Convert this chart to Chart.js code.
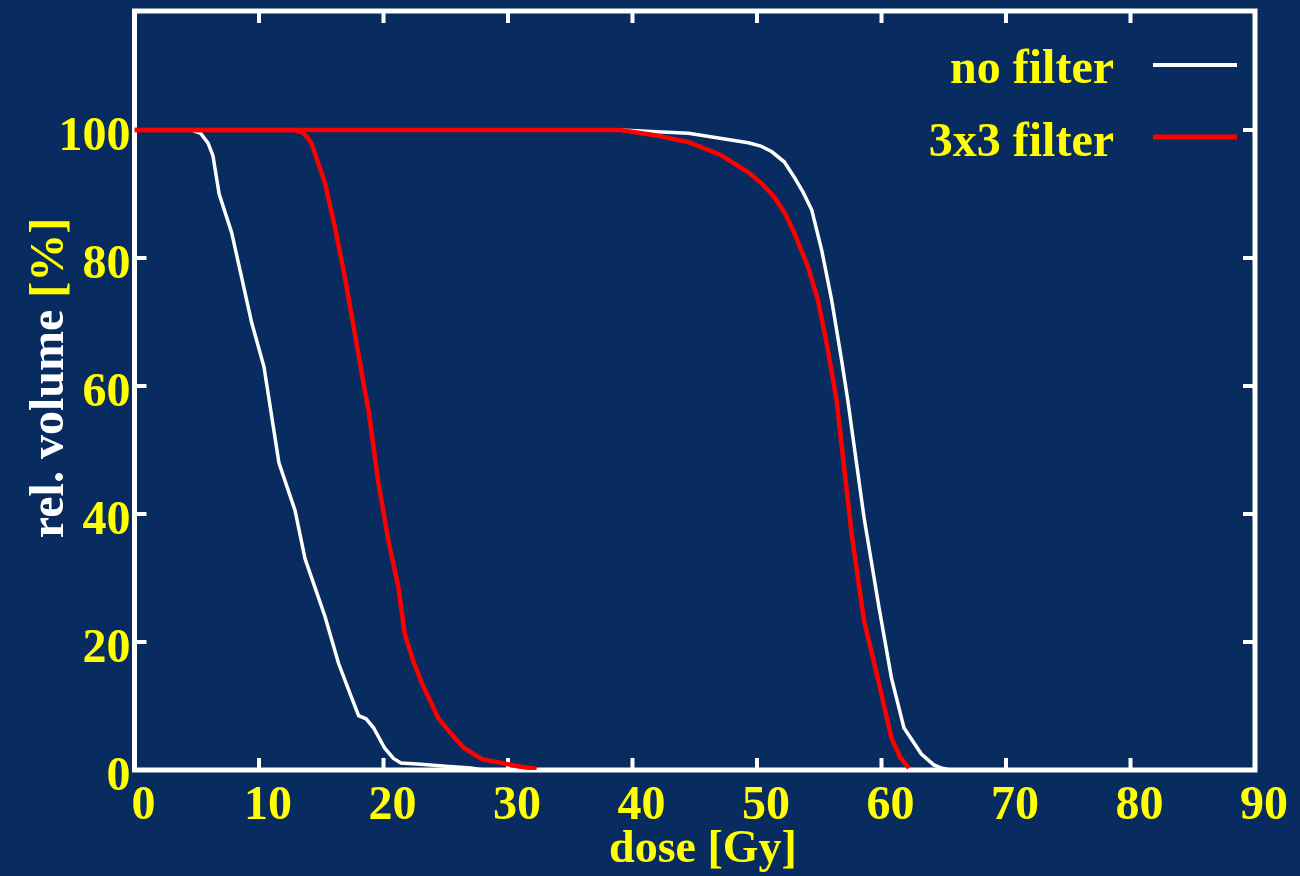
<!DOCTYPE html>
<html>
<head>
<meta charset="utf-8">
<title>rel. volume vs dose</title>
<script src="https://cdn.jsdelivr.net/npm/chart.js@4.4.1/dist/chart.umd.min.js"></script>
<style>
  html, body { margin: 0; padding: 0; background: #082c5f; overflow: hidden; }
  canvas { display: block; }
</style>
</head>
<body>
<canvas id="dvh-chart" width="1300" height="876"></canvas>
<script>
// tick labels
const xTicks = [0, 10, 20, 30, 40, 50, 60, 70, 80, 90];
const yTicks = [0, 20, 40, 60, 80, 100];

// legend entries
const seriesLabels = ['no filter', '3x3 filter'];

// no filter - low dose structure
const noFilterLowDose = [0, 4.6, 5.3, 5.9, 6.3, 6.8, 7.8, 8.6, 9.4, 10.4, 10.8, 11.6, 12.9, 13.7, 14.5, 15.3, 16.4, 17.4, 18.0, 18.6, 19.2, 20.1, 20.8, 21.4, 23.0, 25.0, 27.0, 28.0];
const noFilterLowVolume = [100, 100, 99.5, 98, 96, 90, 84, 77, 70, 63, 58, 48, 40.5, 33, 28.5, 24, 16.6, 11.5, 8.5, 8.0, 6.6, 3.4, 1.8, 1.1, 0.9, 0.6, 0.3, 0];

// no filter - high dose structure
const noFilterHighDose = [0, 39.0, 44.5, 49.3, 50.3, 51.2, 52.2, 53.0, 53.7, 54.4, 55.2, 56.0, 56.8, 57.3, 58.6, 59.8, 60.8, 61.8, 63.2, 64.2, 64.8, 65.5];
const noFilterHighVolume = [100, 100, 99.5, 98, 97.5, 96.6, 95, 92.6, 90.3, 87.5, 81.2, 73.4, 64, 57.7, 39.4, 25.4, 14.4, 6.6, 2.5, 0.8, 0.3, 0];

// 3x3 filter - low dose structure
const filterLowDose = [0, 12.8, 13.5, 13.8, 14.2, 15.3, 16.1, 16.9, 17.7, 18.5, 18.8, 19.6, 20.4, 21.2, 21.7, 22.4, 23.1, 24.4, 25.5, 26.5, 27.9, 30.0, 31.0, 32.3];
const filterLowVolume = [100, 100, 99.6, 99.0, 98, 91.7, 84.8, 77, 68.2, 59.3, 56.2, 44.8, 35.8, 28.5, 21.3, 17, 13.5, 8.1, 5.5, 3.4, 1.7, 0.9, 0.5, 0.2];

// 3x3 filter - high dose structure
const filterHighDose = [0, 39.0, 41.8, 44.5, 47.1, 49.3, 50.4, 51.4, 52.3, 53.0, 54.1, 54.9, 55.7, 56.4, 57.6, 58.6, 59.8, 60.8, 61.5, 62.2];
const filterHighVolume = [100, 100, 99.2, 98.1, 96.1, 93.4, 91.6, 89.5, 86.8, 83.9, 78.6, 73.4, 65.6, 57.7, 36.9, 23.3, 13.5, 5.0, 2.0, 0.3];

const FONT = '"Liberation Serif", "Times New Roman", serif';
const YELLOW = '#ffff00';

function toPoints(doses, volumes) {
  return doses.map((d, i) => ({ x: d, y: volumes[i] }));
}

// white frame with inward ticks on all four sides
const framePlugin = {
  id: 'frame',
  beforeDatasetsDraw(chart) {
    const { ctx, chartArea: a, scales } = chart;
    ctx.save();
    ctx.strokeStyle = '#ffffff';
    ctx.lineWidth = 5;
    ctx.strokeRect(a.left, a.top, a.right - a.left, a.bottom - a.top);
    ctx.lineWidth = 4;
    ctx.beginPath();
    xTicks.forEach(v => {
      const px = scales.x.getPixelForValue(v);
      ctx.moveTo(px, a.bottom); ctx.lineTo(px, a.bottom - 12);
      ctx.moveTo(px, a.top); ctx.lineTo(px, a.top + 12);
    });
    yTicks.forEach(v => {
      const py = scales.y.getPixelForValue(v);
      ctx.moveTo(a.left, py); ctx.lineTo(a.left + 12, py);
      ctx.moveTo(a.right, py); ctx.lineTo(a.right - 12, py);
    });
    ctx.stroke();
    ctx.restore();
  }
};

// legend in the top right corner (text right aligned, sample line after it)
const legendPlugin = {
  id: 'keyBox',
  afterDatasetsDraw(chart) {
    const ctx = chart.ctx;
    const rows = [
      { label: seriesLabels[0], color: '#ffffff', width: 4, textY: 83, lineY: 65 },
      { label: seriesLabels[1], color: '#ff0000', width: 5, textY: 156, lineY: 137 }
    ];
    ctx.save();
    ctx.font = 'bold 48px ' + FONT;
    ctx.textAlign = 'right';
    ctx.textBaseline = 'alphabetic';
    rows.forEach(r => {
      ctx.fillStyle = YELLOW;
      ctx.fillText(r.label, 1114, r.textY);
      ctx.strokeStyle = r.color;
      ctx.lineWidth = r.width;
      ctx.beginPath();
      ctx.moveTo(1153, r.lineY);
      ctx.lineTo(1237, r.lineY);
      ctx.stroke();
    });
    ctx.restore();
  }
};

// axis titles (y title has two colours)
const titlePlugin = {
  id: 'axisTitles',
  afterDraw(chart) {
    const ctx = chart.ctx;
    ctx.save();
    ctx.textBaseline = 'alphabetic';

    // x title
    ctx.font = 'bold 46px ' + FONT;
    ctx.fillStyle = YELLOW;
    ctx.textAlign = 'center';
    ctx.fillText('dose [Gy]', 703, 862);

    // y title
    ctx.font = 'bold 48px ' + FONT;
    const partA = 'rel. volume ';
    const partB = '[%]';
    const wA = ctx.measureText(partA).width;
    const wB = ctx.measureText(partB).width;
    ctx.translate(63, 378);
    ctx.rotate(-Math.PI / 2);
    ctx.textAlign = 'left';
    ctx.fillStyle = '#ffffff';
    ctx.fillText(partA, -(wA + wB) / 2, 0);
    ctx.fillStyle = YELLOW;
    ctx.fillText(partB, -(wA + wB) / 2 + wA, 0);
    ctx.restore();
  }
};

const ctx = document.getElementById('dvh-chart').getContext('2d');
const chart = new Chart(ctx, {
  type: 'line',
  data: {
    datasets: [
      { label: seriesLabels[1], data: toPoints(filterLowDose, filterLowVolume), borderColor: '#ff0000', borderWidth: 4.5, order: 1 },
      { label: seriesLabels[1], data: toPoints(filterHighDose, filterHighVolume), borderColor: '#ff0000', borderWidth: 4.5, order: 1 },
      { label: seriesLabels[0], data: toPoints(noFilterLowDose, noFilterLowVolume), borderColor: '#ffffff', borderWidth: 3.5, order: 2 },
      { label: seriesLabels[0], data: toPoints(noFilterHighDose, noFilterHighVolume), borderColor: '#ffffff', borderWidth: 3.5, order: 2 }
    ]
  },
  options: {
    responsive: false,
    animation: false,
    events: [],
    elements: {
      point: { radius: 0 },
      line: { tension: 0, fill: false }
    },
    layout: { padding: { left: 0, right: 45, top: 11, bottom: 0 } },
    scales: {
      x: {
        type: 'linear',
        min: 0,
        max: 90,
        afterFit: s => { s.height = 106; s.paddingLeft = 0; s.paddingRight = 0; },
        afterBuildTicks: s => { s.ticks = xTicks.map(v => ({ value: v })); },
        grid: { display: false, drawTicks: false },
        border: { display: false },
        ticks: {
          color: YELLOW,
          font: { family: FONT, size: 48, weight: 'bold' },
          padding: 8,
          labelOffset: 9,
          maxRotation: 0,
          autoSkip: false
        }
      },
      y: {
        type: 'linear',
        min: 0,
        max: 118.6,
        afterFit: s => { s.width = 134.5; s.paddingTop = 0; s.paddingBottom = 0; },
        afterBuildTicks: s => { s.ticks = yTicks.map(v => ({ value: v })); },
        grid: { display: false, drawTicks: false },
        border: { display: false },
        ticks: {
          color: YELLOW,
          font: { family: FONT, size: 48, weight: 'bold' },
          padding: 4,
          labelOffset: 8,
          autoSkip: false
        }
      }
    },
    plugins: {
      legend: { display: false },
      tooltip: { enabled: false }
    }
  },
  plugins: [framePlugin, legendPlugin, titlePlugin]
});
</script>
</body>
</html>
